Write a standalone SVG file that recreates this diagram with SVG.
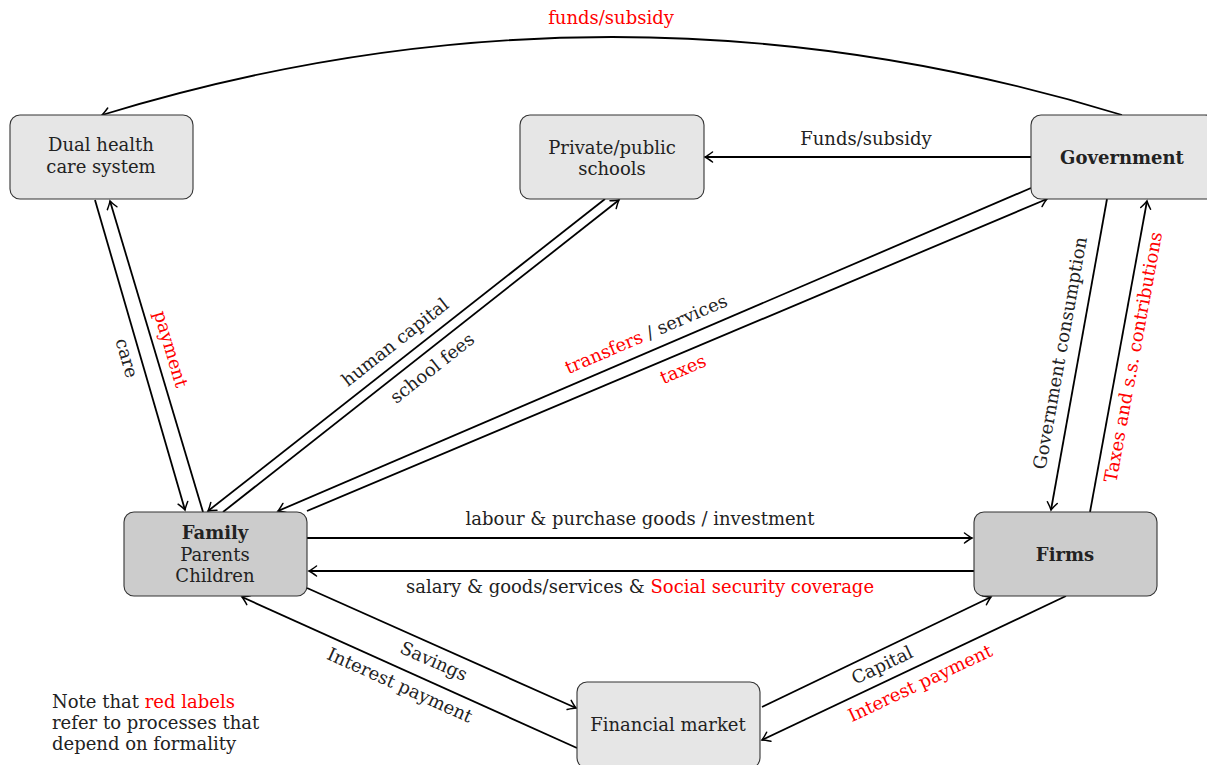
<svg xmlns="http://www.w3.org/2000/svg" width="1207" height="765" viewBox="0 0 1207 765">
<style>
  text { font-family: "DejaVu Serif", "Liberation Serif", serif; font-size: 18px; fill: #222; }
  .b { font-weight: bold; }
  .red { fill: #ff0000; }
  .node1 { fill: #e6e6e6; stroke: #333; stroke-width: 1.1; }
  .node2 { fill: #cccccc; stroke: #333; stroke-width: 1.1; }
  .edge { fill: none; stroke: #000; stroke-width: 1.8; marker-end: url(#arr); }
</style>
<defs>
  <marker id="arr" markerUnits="userSpaceOnUse" markerWidth="16" markerHeight="16" refX="0" refY="0" viewBox="-10 -8 12 16" orient="auto" overflow="visible">
    <path d="M-7.5,-5 Q-2.5,-1.2 0,0 Q-2.5,1.2 -7.5,5" fill="none" stroke="#000" stroke-width="1.5" stroke-linecap="round"/>
  </marker>
</defs>
<rect width="1207" height="765" fill="#fff"/>

<g id="connectors">
  <path class="edge" d="M1122,115 Q612,-41 102,115"/>
  <path class="edge" d="M1031,157 L705,157"/>
  <path class="edge" d="M95,200 L185,510"/>
  <path class="edge" d="M203,512 L110,201"/>
  <path class="edge" d="M605,199 L208,511"/>
  <path class="edge" d="M223,512 L619,200"/>
  <path class="edge" d="M1031,188 L278,511"/>
  <path class="edge" d="M307,511 L1047,199"/>
  <path class="edge" d="M1107,199 L1051,510"/>
  <path class="edge" d="M1090,512 L1147,201"/>
  <path class="edge" d="M307,538 L972,538"/>
  <path class="edge" d="M974,571 L309,571"/>
  <path class="edge" d="M307,588 L576,708"/>
  <path class="edge" d="M577,748 L242,597"/>
  <path class="edge" d="M762,707 L991,597"/>
  <path class="edge" d="M1066,596 L762,740"/>
</g>

<g id="edge-labels">
  <text class="red" x="611" y="24" text-anchor="middle">funds/subsidy</text>
  <text x="866" y="145" text-anchor="middle">Funds/subsidy</text>
  <text transform="translate(127,358) rotate(73.8)" dy="0.35em" text-anchor="middle">care</text>
  <text class="red" transform="translate(171,349) rotate(73.4)" dy="0.35em" text-anchor="middle">payment</text>
  <text transform="translate(395,342) rotate(-38.2)" dy="0.35em" text-anchor="middle">human capital</text>
  <text transform="translate(432,368) rotate(-38.3)" dy="0.35em" text-anchor="middle">school fees</text>
  <text transform="translate(646,334) rotate(-23.2)" dy="0.35em" text-anchor="middle"><tspan class="red">transfers</tspan> / services</text>
  <text class="red" transform="translate(683,369) rotate(-22.9)" dy="0.35em" text-anchor="middle">taxes</text>
  <text transform="translate(1060,353) rotate(-79.8)" dy="0.35em" text-anchor="middle">Government consumption</text>
  <text class="red" transform="translate(1133,357) rotate(-79.6)" dy="0.35em" text-anchor="middle">Taxes and s.s. contributions</text>
  <text x="640" y="525" text-anchor="middle">labour &amp; purchase goods / investment</text>
  <text x="640" y="593" text-anchor="middle">salary &amp; goods/services &amp; <tspan class="red">Social security coverage</tspan></text>
  <text transform="translate(434,661) rotate(24)" dy="0.35em" text-anchor="middle">Savings</text>
  <text transform="translate(400,685) rotate(24.3)" dy="0.35em" text-anchor="middle">Interest payment</text>
  <text transform="translate(882,665) rotate(-25.6)" dy="0.35em" text-anchor="middle">Capital</text>
  <text class="red" transform="translate(920,683) rotate(-25.3)" dy="0.35em" text-anchor="middle">Interest payment</text>
</g>

<g id="dual-health">
  <rect class="node1" x="10" y="115" width="183" height="84" rx="10"/>
  <text x="101" y="151" text-anchor="middle">Dual health</text>
  <text x="101" y="173" text-anchor="middle">care system</text>
</g>
<g id="schools">
  <rect class="node1" x="520" y="115" width="184" height="84" rx="10"/>
  <text x="612" y="154" text-anchor="middle">Private/public</text>
  <text x="612" y="175" text-anchor="middle">schools</text>
</g>
<g id="government">
  <rect class="node1" x="1031" y="115" width="184" height="84" rx="10"/>
  <text class="b" x="1122" y="164" text-anchor="middle">Government</text>
</g>
<g id="family">
  <rect class="node2" x="124" y="512" width="183" height="84" rx="10"/>
  <text class="b" x="215" y="539" text-anchor="middle">Family</text>
  <text x="215" y="561" text-anchor="middle">Parents</text>
  <text x="215" y="582" text-anchor="middle">Children</text>
</g>
<g id="firms">
  <rect class="node2" x="974" y="512" width="183" height="84" rx="10"/>
  <text class="b" x="1065" y="561" text-anchor="middle">Firms</text>
</g>
<g id="financial-market">
  <rect class="node1" x="577" y="682" width="183" height="86" rx="10"/>
  <text x="668" y="731" text-anchor="middle">Financial market</text>
</g>

<g id="note">
  <text x="52" y="708">Note that <tspan class="red">red labels</tspan></text>
  <text x="52" y="729">refer to processes that</text>
  <text x="52" y="750">depend on formality</text>
</g>
</svg>
